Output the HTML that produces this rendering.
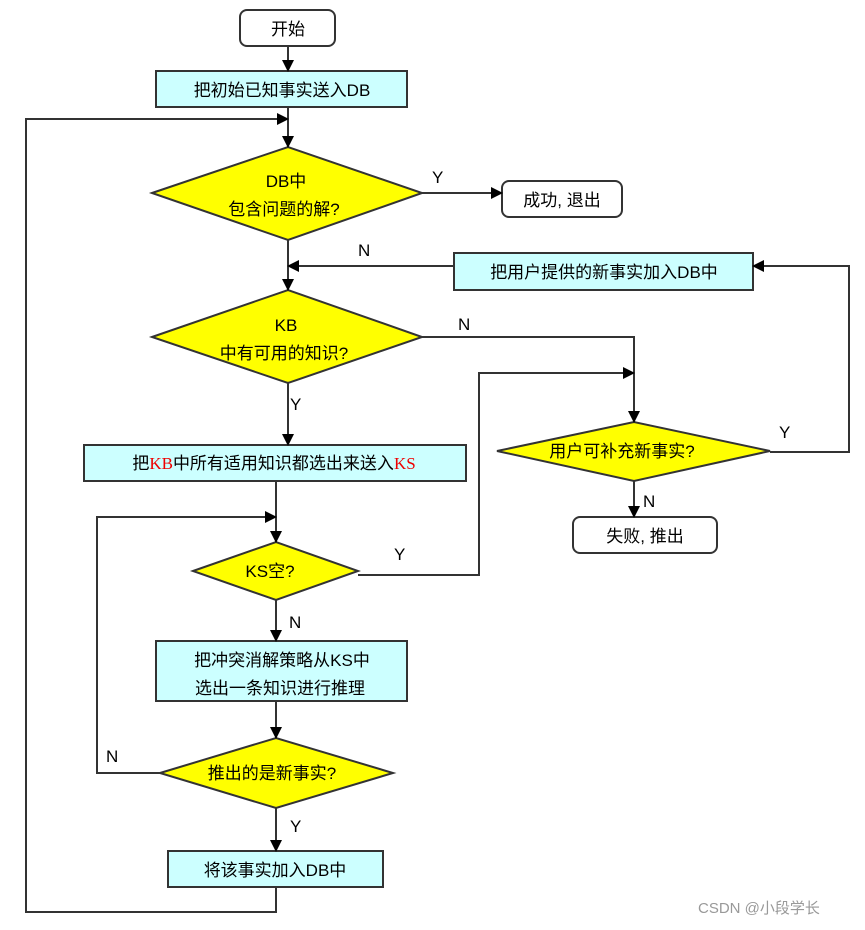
<!DOCTYPE html>
<html><head><meta charset="utf-8"><style>
body{margin:0;background:#fff;}
svg text{font-family:"Liberation Sans","Noto Sans CJK SC",sans-serif;font-size:17px;fill:#000;}
</style></head><body>
<svg width="865" height="925" viewBox="0 0 865 925" xmlns="http://www.w3.org/2000/svg">
<defs><marker id="a" markerWidth="12" markerHeight="12" refX="11" refY="6" orient="auto" markerUnits="userSpaceOnUse"><path d="M0,0 L12,6 L0,12 z" fill="#000"/></marker></defs>
<g stroke="#333" stroke-width="2" fill="none">
<!-- shapes -->
<rect x="240" y="10" width="95" height="36" rx="7" fill="#fff"/>
<rect x="156" y="71" width="251" height="36" fill="#ccffff"/>
<polygon points="152,193 288,147 422,193 288,240" fill="#ffff00"/>
<rect x="502" y="181" width="120" height="36" rx="7" fill="#fff"/>
<rect x="454" y="253" width="299" height="37" fill="#ccffff"/>
<polygon points="152,337 288,290 422,337 288,383" fill="#ffff00"/>
<rect x="84" y="445" width="382" height="36" fill="#ccffff"/>
<polygon points="497,451 634,422 770,451 634,481" fill="#ffff00"/>
<rect x="573" y="517" width="144" height="36" rx="7" fill="#fff"/>
<polygon points="193,571 276,542 358,571 276,600" fill="#ffff00"/>
<rect x="156" y="641" width="251" height="60" fill="#ccffff"/>
<polygon points="160,773 276,738 393,773 276,808" fill="#ffff00"/>
<rect x="168" y="851" width="215" height="36" fill="#ccffff"/>
<!-- connectors -->
<line x1="288" y1="46" x2="288" y2="71" marker-end="url(#a)"/>
<line x1="288" y1="107" x2="288" y2="147" marker-end="url(#a)"/>
<polyline points="276,887 276,912 26,912 26,119 288,119" marker-end="url(#a)"/>
<line x1="422" y1="193" x2="502" y2="193" marker-end="url(#a)"/>
<line x1="288" y1="240" x2="288" y2="290" marker-end="url(#a)"/>
<line x1="454" y1="266" x2="288" y2="266" marker-end="url(#a)"/>
<polyline points="422,337 634,337 634,422" marker-end="url(#a)"/>
<line x1="288" y1="383" x2="288" y2="445" marker-end="url(#a)"/>
<line x1="276" y1="481" x2="276" y2="542" marker-end="url(#a)"/>
<polyline points="160,773 97,773 97,517 276,517" marker-end="url(#a)"/>
<polyline points="358,575 479,575 479,373 634,373" marker-end="url(#a)"/>
<polyline points="770,452 849,452 849,266 753,266" marker-end="url(#a)"/>
<line x1="634" y1="481" x2="634" y2="517" marker-end="url(#a)"/>
<line x1="276" y1="600" x2="276" y2="641" marker-end="url(#a)"/>
<line x1="276" y1="701" x2="276" y2="738" marker-end="url(#a)"/>
<line x1="276" y1="808" x2="276" y2="851" marker-end="url(#a)"/>
</g>
<g text-anchor="middle">
<text x="288" y="35">开始</text>
<text x="282" y="96">把初始已知事实送入DB</text>
<text x="286" y="187">DB中</text>
<text x="284" y="215">包含问题的解?</text>
<text x="562" y="206">成功, 退出</text>
<text x="604" y="278">把用户提供的新事实加入DB中</text>
<text x="286" y="331">KB</text>
<text x="284" y="359">中有可用的知识?</text>
<text x="274" y="469">把<tspan fill="#e00" font-family="Liberation Serif,serif">KB</tspan>中所有适用知识都选出来送入<tspan fill="#e00" font-family="Liberation Serif,serif">KS</tspan></text>
<text x="622" y="457">用户可补充新事实?</text>
<text x="645" y="542">失败, 推出</text>
<text x="270" y="577">KS空?</text>
<text x="282" y="666">把冲突消解策略从KS中</text>
<text x="280" y="694">选出一条知识进行推理</text>
<text x="272" y="779">推出的是新事实?</text>
<text x="275" y="876">将该事实加入DB中</text>
</g>
<text x="432" y="183">Y</text>
<text x="358" y="256">N</text>
<text x="458" y="330">N</text>
<text x="290" y="410">Y</text>
<text x="779" y="438">Y</text>
<text x="643" y="507">N</text>
<text x="394" y="560">Y</text>
<text x="289" y="628" font-size="14">N</text>
<text x="106" y="762">N</text>
<text x="290" y="832">Y</text>
<text x="698" y="913" style="font-size:15px;fill:#999">CSDN @小段学长</text>
</svg>
</body></html>
